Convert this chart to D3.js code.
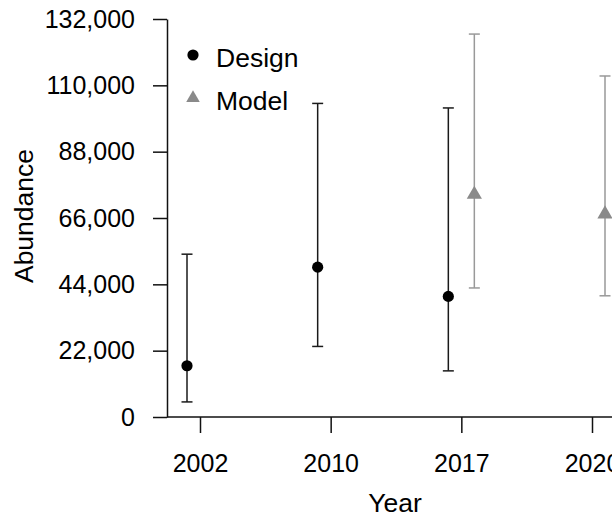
<!DOCTYPE html>
<html>
<head>
<meta charset="utf-8">
<script src="https://cdn.jsdelivr.net/npm/d3@7"></script>
<style>
  body { margin: 0; background: #fff; }
  svg { display: block; font-family: "Liberation Sans", Arial, sans-serif; }
</style>
</head>
<body>
<div id="chart"></div>
<script>
// values
var years = ["2002", "2010", "2017", "2020"];
var yTicks = [0, 22000, 44000, 66000, 88000, 110000, 132000];

var designYears = ["2002", "2010", "2017"];
var designEst = [17000, 49700, 40000];
var designLow = [5000, 23400, 15300];
var designHigh = [54000, 104000, 102500];

var modelYears = ["2017", "2020"];
var modelEst = [73800, 67300];
var modelLow = [42800, 40200];
var modelHigh = [127000, 113100];

var W = 612, H = 517;
var plotLeft = 167, plotTop = 19, plotBottom = 417;
var dodge = 13;

var svg = d3.select("#chart").append("svg")
  .attr("width", W)
  .attr("height", H);

var y = d3.scaleLinear().domain([0, 132000]).range([plotBottom, plotTop]);
var x = d3.scalePoint().domain(years).range([200, 592]);

// y axis
var yAxis = svg.append("g")
  .attr("transform", "translate(" + plotLeft + ",0)")
  .call(d3.axisLeft(y).tickValues(yTicks).tickFormat(d3.format(","))
    .tickSize(14).tickSizeOuter(0).tickPadding(18));

// x axis
var xAxis = svg.append("g")
  .attr("transform", "translate(0," + plotBottom + ")")
  .call(d3.axisBottom(x).tickSize(16).tickSizeOuter(0).tickPadding(21.5));
xAxis.select(".domain").remove();
xAxis.append("line")
  .attr("x1", plotLeft).attr("x2", W)
  .attr("y1", 0).attr("y2", 0)
  .attr("stroke", "#000");

svg.selectAll(".tick line, .domain, g > line").attr("stroke", "#111").attr("stroke-width", 1.5);
svg.selectAll(".tick text")
  .attr("font-size", 25)
  .attr("fill", "#000")
  .attr("font-family", "Liberation Sans, Arial, sans-serif");

// error bars
function drawBars(yrs, est, lo, hi, off, col, cls) {
  var g = svg.append("g").attr("class", cls);
  var rows = yrs.map(function(d, i) { return {year: d, est: est[i], lo: lo[i], hi: hi[i]}; });
  var bar = g.selectAll("g").data(rows).enter().append("g")
    .attr("transform", function(d) { return "translate(" + (x(d.year) + off) + ",0)"; });
  bar.append("line")
    .attr("y1", function(d) { return y(d.lo); })
    .attr("y2", function(d) { return y(d.hi); })
    .attr("stroke", col).attr("stroke-width", 1.5);
  bar.append("line")
    .attr("x1", -5.5).attr("x2", 5.5)
    .attr("y1", function(d) { return y(d.lo); })
    .attr("y2", function(d) { return y(d.lo); })
    .attr("stroke", col).attr("stroke-width", 1.5);
  bar.append("line")
    .attr("x1", -5.5).attr("x2", 5.5)
    .attr("y1", function(d) { return y(d.hi); })
    .attr("y2", function(d) { return y(d.hi); })
    .attr("stroke", col).attr("stroke-width", 1.5);
  return bar;
}

var dBars = drawBars(designYears, designEst, designLow, designHigh, -dodge, "#1a1a1a", "design");
dBars.append("circle")
  .attr("cy", function(d) { return y(d.est); })
  .attr("r", 5.6)
  .attr("fill", "#000");

var mBars = drawBars(modelYears, modelEst, modelLow, modelHigh, dodge, "#999", "model");
mBars.append("path")
  .attr("d", d3.symbol().type(d3.symbolTriangle).size(100))
  .attr("transform", function(d) { return "translate(0," + y(d.est) + ")"; })
  .attr("fill", "#8a8a8a");

// axis titles
svg.append("text")
  .attr("transform", "translate(33,216) rotate(-90)")
  .attr("text-anchor", "middle")
  .attr("font-size", 26.5)
  .text("Abundance");

svg.append("text")
  .attr("x", 395).attr("y", 512)
  .attr("text-anchor", "middle")
  .attr("font-size", 26.5)
  .text("Year");

// legend
var legend = svg.append("g");
legend.append("circle").attr("cx", 193).attr("cy", 55).attr("r", 5.6).attr("fill", "#000");
legend.append("text").attr("x", 216).attr("y", 67).attr("font-size", 26.5).text("Design");
legend.append("path")
  .attr("d", d3.symbol().type(d3.symbolTriangle).size(80))
  .attr("transform", "translate(193,98)")
  .attr("fill", "#8a8a8a");
legend.append("text").attr("x", 216).attr("y", 110).attr("font-size", 26.5).text("Model");
</script>
</body>
</html>
